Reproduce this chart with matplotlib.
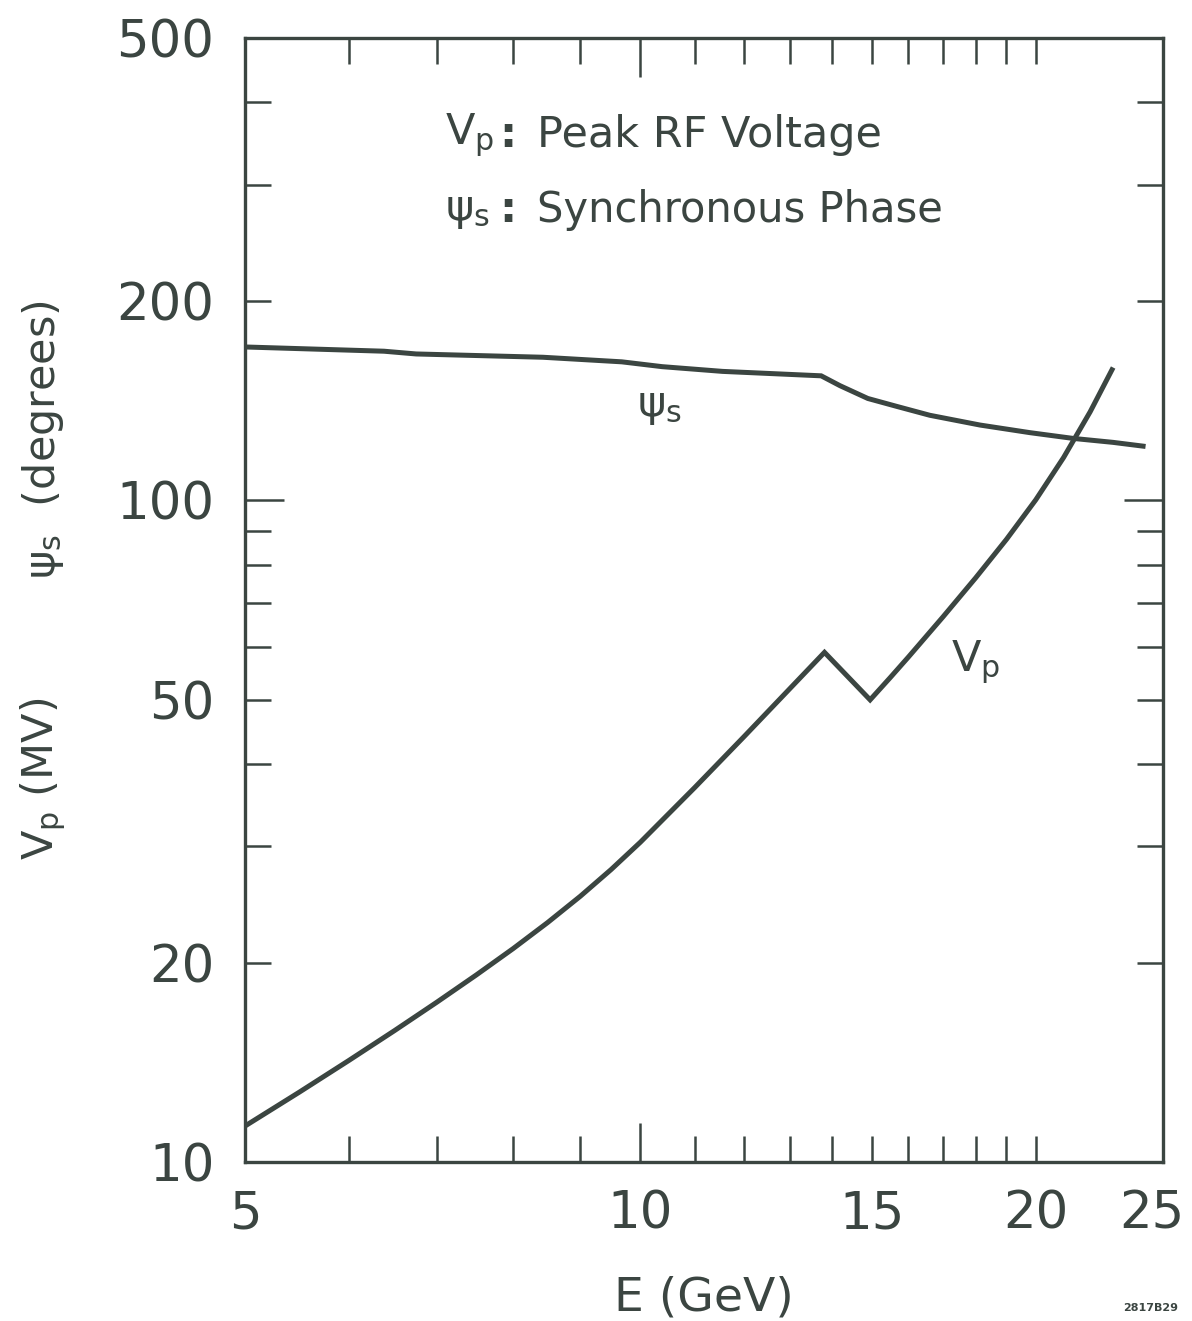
import matplotlib
matplotlib.use('Agg')
import matplotlib.pyplot as plt
import matplotlib.transforms as mtransforms
from matplotlib.ticker import FixedLocator, NullFormatter, FixedFormatter

# (E in GeV)
e_psi = [5.0, 6.38, 6.75, 8.43, 9.68, 10.39, 11.55, 13.73, 14.19, 14.90,
         15.68, 16.61, 18.14, 19.80, 21.35, 22.90, 24.14]
psi_s = [170.6, 168.1, 166.5, 164.6, 162.0, 159.3, 156.7, 154.3, 149.1, 142.6,
         138.7, 134.5, 130.0, 126.6, 124.1, 122.4, 120.8]

e_vp = [5.0, 5.5, 6.0, 6.5, 7.0, 7.5, 8.0, 8.5, 9.0, 9.5, 10.0, 11.0, 12.0,
        13.0, 13.81, 14.96, 15.5, 16.0, 17.0, 18.0, 19.0, 20.0, 21.0, 22.0,
        22.86]
v_p = [11.33, 12.75, 14.24, 15.80, 17.44, 19.17, 21.01, 23.01, 25.21, 27.67,
       30.43, 36.81, 44.0, 51.97, 58.93, 49.95, 54.0, 57.99, 66.69, 76.37,
       87.33, 100.2, 116.1, 136.1, 157.6]

x_labels = [5, 10, 15, 20, 25]
x_minor = [6, 7, 8, 9, 11, 12, 13, 14, 16, 17, 18, 19]
y_labels = [10, 20, 50, 100, 200, 500]
y_minor = [30, 40, 60, 70, 80, 90, 300, 400]

ink = '#3b4541'
plt.rcParams.update({'font.family': 'DejaVu Sans',
                     'text.color': ink,
                     'axes.labelcolor': ink,
                     'axes.edgecolor': ink,
                     'xtick.color': ink,
                     'ytick.color': ink,
                     'xtick.direction': 'in',
                     'ytick.direction': 'in'})

fig = plt.figure(figsize=(11.92, 13.21), dpi=100)
ax = fig.add_axes([0.2055, 0.1204, 0.7702, 0.8508])
ax.set_xscale('log')
ax.set_yscale('log')
ax.set_xlim(5, 25)
ax.set_ylim(10, 500)

for sp in ax.spines.values():
    sp.set_linewidth(2.4)

# curves
ax.plot(e_psi, psi_s, '-', color=ink, linewidth=3.6, solid_joinstyle='miter')
ax.plot(e_vp, v_p, '-', color=ink, linewidth=3.6, solid_joinstyle='miter')

# ticks
ax.xaxis.set_major_locator(FixedLocator(x_labels))
ax.xaxis.set_major_formatter(FixedFormatter([str(v) for v in x_labels]))
ax.xaxis.set_minor_locator(FixedLocator(x_minor))
ax.xaxis.set_minor_formatter(NullFormatter())
ax.yaxis.set_major_locator(FixedLocator(y_labels))
ax.yaxis.set_major_formatter(FixedFormatter([str(v) for v in y_labels]))
ax.yaxis.set_minor_locator(FixedLocator(y_minor))
ax.yaxis.set_minor_formatter(NullFormatter())

ax.tick_params(which='both', top=True, right=True, width=1.8)
ax.tick_params(which='minor', length=19)
ax.tick_params(axis='x', which='major', labelsize=37, pad=20)
ax.tick_params(axis='y', which='major', labelsize=37, pad=22)

# per-tick lengths for the labelled ticks
long_len, short_len = 28, 19
for tick, v in zip(ax.xaxis.get_major_ticks(), x_labels):
    ln = long_len if v == 10 else (0 if v in (5, 25) else short_len)
    tick.tick1line.set_markersize(ln)
    tick.tick2line.set_markersize(ln)
for tick, v in zip(ax.yaxis.get_major_ticks(), y_labels):
    ln = long_len if v == 100 else (0 if v in (10, 500) else short_len)
    tick.tick1line.set_markersize(ln)
    tick.tick2line.set_markersize(ln)

# nudge the last x label so it stays inside the figure
shift = mtransforms.ScaledTranslation(-8 / 72, 0, fig.dpi_scale_trans)
lbl25 = ax.xaxis.get_major_ticks()[-1].label1
lbl25.set_transform(lbl25.get_transform() + shift)

# axis labels
ax.set_xlabel('E (GeV)', fontsize=34, labelpad=26)
fig.text(0.036, 0.667, r'$\mathregular{ψ_s}$  (degrees)', rotation=90,
         fontsize=31, ha='center', va='center')
fig.text(0.036, 0.41, r'$\mathregular{V_p}$ (MV)', rotation=90,
         fontsize=31, ha='center', va='center')

# key
ax.text(0.218, 0.914, r'$\mathregular{V_p}$', transform=ax.transAxes,
        fontsize=31, ha='left', va='center')
ax.text(0.2865, 0.914, ':', transform=ax.transAxes,
        fontsize=31, ha='center', va='center', fontweight='bold')
ax.text(0.318, 0.914, 'Peak RF Voltage', transform=ax.transAxes,
        fontsize=31, ha='left', va='center')
ax.text(0.218, 0.847, r'$\mathregular{ψ_s}$', transform=ax.transAxes,
        fontsize=31, ha='left', va='center')
ax.text(0.2865, 0.847, ':', transform=ax.transAxes,
        fontsize=31, ha='center', va='center', fontweight='bold')
ax.text(0.318, 0.847, 'Synchronous Phase', transform=ax.transAxes,
        fontsize=30, ha='left', va='center')

# curve labels
ax.text(10.35, 139, r'$\mathregular{ψ_s}$', fontsize=31, ha='center', va='center')
ax.text(18.0, 57, r'$\mathregular{V_p}$', fontsize=31, ha='center', va='center')

fig.text(0.965, 0.006, '2817B29', fontsize=8, fontweight='bold',
         ha='center', va='bottom')

plt.savefig('out.png', dpi=100)
